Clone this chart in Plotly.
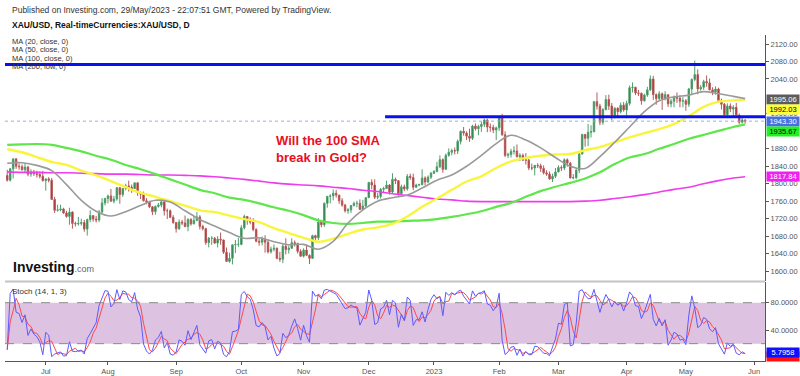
import pandas as pd
import plotly.graph_objects as go

# ---------------- data ----------------
start_date = "2022-06-14"
end_date = "2023-05-29"
first_open = 1819

high = [
    1832, 1836, 1857, 1858, 1846, 1844, 1847, 1841, 1833, 1832, 1830, 1828, 1829,
    1812, 1815, 1813, 1770, 1752, 1752, 1745, 1738, 1745, 1737, 1713, 1724, 1720, 1717, 1720, 1739, 1727, 1726, 1740, 1767, 1768,
    1775, 1788, 1772, 1792, 1792, 1790, 1800, 1807, 1798, 1802, 1803, 1782, 1782, 1767, 1761, 1748, 1750, 1756, 1765, 1762, 1743, 1741, 1728,
    1712, 1718, 1717, 1727, 1721, 1721, 1726, 1735, 1728, 1706, 1699, 1678, 1680, 1678, 1680, 1688, 1672, 1654, 1642, 1660, 1671, 1676,
    1705, 1729, 1726, 1723, 1721, 1698, 1675, 1679, 1682, 1671, 1656, 1661, 1654, 1644, 1662, 1675, 1658, 1675, 1670, 1665, 1650,
    1652, 1660, 1638, 1683, 1683, 1721, 1717, 1757, 1772, 1776, 1787, 1786, 1774, 1767, 1754, 1744, 1751, 1759, 1761, 1764, 1763, 1769,
    1804, 1810, 1810, 1779, 1790, 1793, 1807, 1799, 1824, 1814, 1808, 1798, 1798, 1822, 1823, 1823, 1800, 1800, 1833, 1817, 1819, 1827,
    1831, 1850, 1865, 1858, 1869, 1881, 1880, 1883, 1901, 1922, 1930, 1920, 1926, 1935, 1938, 1935, 1942, 1949, 1949, 1938, 1935, 1931,
    1955, 1960, 1920, 1871, 1880, 1886, 1890, 1870, 1869, 1870, 1857, 1846, 1843, 1847, 1846, 1842, 1831, 1828, 1823, 1836,
    1842, 1842, 1858, 1858, 1850, 1822, 1834, 1870, 1914, 1913, 1937, 1934, 1989, 2009, 1983, 1973, 2003, 2004, 1985, 1975, 1975, 1986, 1987,
    1990, 2025, 2032, 2022, 2015, 2009, 2006, 2022, 2048, 2047, 2007, 2012, 2009, 2012, 2004, 1994, 2002, 2009, 2003, 1999,
    1994, 2019, 2041, 2082, 2062, 2026, 2038, 2048, 2041, 2021, 2023, 2020, 1995, 1985, 1984, 1984, 1980, 1985, 1961, 1953, 1947,
]
low = [
    1805, 1805, 1812, 1834, 1832, 1830, 1826, 1817, 1816, 1818, 1814, 1812, 1805,
    1784, 1803, 1763, 1733, 1736, 1737, 1731, 1722, 1706, 1697, 1702, 1704, 1704, 1690, 1681, 1712, 1713, 1711, 1712, 1731, 1750,
    1755, 1759, 1755, 1761, 1754, 1770, 1785, 1782, 1779, 1788, 1772, 1765, 1759, 1753, 1744, 1728, 1729, 1745, 1746, 1727, 1719, 1721, 1708,
    1688, 1694, 1705, 1700, 1691, 1704, 1707, 1714, 1695, 1693, 1660, 1654, 1660, 1662, 1654, 1660, 1639, 1621, 1619, 1615, 1641, 1655,
    1659, 1695, 1706, 1707, 1691, 1666, 1658, 1659, 1642, 1640, 1640, 1645, 1627, 1621, 1618, 1638, 1640, 1651, 1656, 1640, 1632,
    1631, 1634, 1616, 1628, 1666, 1671, 1700, 1701, 1745, 1755, 1762, 1768, 1754, 1747, 1734, 1731, 1733, 1748, 1746, 1740, 1740, 1746,
    1768, 1787, 1765, 1764, 1766, 1779, 1788, 1775, 1778, 1799, 1773, 1774, 1783, 1784, 1809, 1785, 1790, 1794, 1796, 1796, 1801, 1811,
    1822, 1826, 1836, 1825, 1832, 1862, 1865, 1867, 1868, 1890, 1910, 1900, 1896, 1900, 1922, 1911, 1919, 1930, 1918, 1919, 1916, 1900,
    1921, 1910, 1861, 1859, 1860, 1867, 1860, 1852, 1852, 1844, 1831, 1831, 1819, 1836, 1827, 1821, 1818, 1809, 1804, 1813,
    1826, 1829, 1831, 1839, 1813, 1810, 1810, 1824, 1867, 1885, 1886, 1906, 1918, 1970, 1934, 1935, 1968, 1969, 1945, 1949, 1950, 1961, 1965,
    1950, 1979, 2009, 2003, 2001, 1981, 1988, 1999, 2012, 1992, 1981, 1991, 1969, 1991, 1976, 1975, 1975, 1985, 1975, 1975,
    1967, 1976, 2003, 2035, 2005, 2013, 2015, 2022, 2014, 2003, 2004, 1985, 1970, 1952, 1950, 1964, 1955, 1957, 1937, 1938, 1938,
]
close = [
    1808, 1834, 1857, 1840, 1839, 1832, 1838, 1822, 1827, 1823, 1821, 1817, 1807,
    1811, 1808, 1764, 1739, 1740, 1742, 1733, 1725, 1735, 1709, 1708, 1709, 1711, 1696, 1718, 1727, 1719, 1717, 1735, 1756, 1766,
    1772, 1760, 1765, 1791, 1775, 1789, 1795, 1792, 1789, 1802, 1779, 1776, 1761, 1758, 1747, 1736, 1748, 1751, 1758, 1738, 1738, 1723, 1711,
    1697, 1712, 1710, 1702, 1718, 1708, 1716, 1724, 1702, 1697, 1665, 1675, 1675, 1664, 1673, 1671, 1643, 1622, 1629, 1660, 1661, 1661,
    1699, 1725, 1716, 1712, 1695, 1668, 1666, 1673, 1666, 1644, 1650, 1652, 1629, 1627, 1657, 1649, 1652, 1665, 1663, 1645, 1634,
    1648, 1636, 1629, 1681, 1676, 1712, 1706, 1755, 1771, 1772, 1778, 1774, 1761, 1751, 1738, 1740, 1750, 1755, 1755, 1741, 1749, 1768,
    1803, 1797, 1769, 1771, 1787, 1789, 1797, 1781, 1810, 1807, 1777, 1793, 1788, 1817, 1814, 1792, 1797, 1798, 1813, 1804, 1815, 1824,
    1828, 1839, 1855, 1833, 1865, 1872, 1876, 1875, 1897, 1920, 1916, 1909, 1904, 1932, 1926, 1931, 1936, 1946, 1930, 1929, 1923, 1928,
    1951, 1912, 1865, 1867, 1874, 1875, 1862, 1865, 1854, 1854, 1836, 1836, 1842, 1841, 1835, 1825, 1822, 1811, 1817, 1827,
    1837, 1836, 1855, 1847, 1813, 1814, 1831, 1868, 1913, 1904, 1918, 1919, 1988, 1978, 1941, 1970, 1993, 1978, 1957, 1973, 1965, 1980, 1969,
    1984, 2020, 2021, 2008, 2007, 1990, 2003, 2015, 2040, 2004, 1995, 2006, 1995, 2004, 1983, 1989, 1998, 1996, 1989, 1990,
    1982, 2017, 2039, 2050, 2017, 2021, 2034, 2031, 2015, 2010, 2017, 1990, 1982, 1958, 1978, 1971, 1975, 1957, 1941, 1946, 1943,
]

# moving averages read every 5 bars (last point = last bar)
ma20 = [1847, 1848, 1842, 1830, 1798, 1762, 1737, 1726, 1736, 1750, 1762, 1758, 1738, 1718, 1703, 1688, 1675, 1676,
        1667, 1660, 1661, 1650, 1668, 1710, 1740, 1760, 1768, 1774, 1790, 1808, 1820, 1840, 1865, 1892, 1911, 1900,
        1882, 1860, 1840, 1835, 1862, 1895, 1930, 1965, 1990, 1999, 2003, 2011, 2006, 2000, 1995]
ma50 = [1879, 1872, 1861, 1850, 1843, 1830, 1819, 1806, 1792, 1779, 1770, 1760, 1750, 1739, 1735, 1727, 1719, 1712,
        1698, 1687, 1676, 1667, 1674, 1685, 1695, 1700, 1708, 1725, 1747, 1766, 1786, 1805, 1817, 1836, 1851, 1859,
        1864, 1867, 1868, 1877, 1884, 1895, 1906, 1916, 1925, 1937, 1955, 1976, 1988, 1991, 1993]
ma100 = [1889, 1890, 1891, 1889, 1882, 1874, 1864, 1855, 1843, 1833, 1822, 1810, 1798, 1786, 1778, 1768, 1763, 1755,
         1746, 1738, 1728, 1716, 1710, 1708, 1710, 1713, 1713, 1715, 1716, 1719, 1724, 1730, 1737, 1747, 1756, 1770,
         1783, 1793, 1802, 1812, 1826, 1845, 1860, 1868, 1880, 1891, 1903, 1912, 1921, 1930, 1936]
ma200 = [1827, 1826, 1826, 1825, 1825, 1824, 1823, 1822, 1822, 1821, 1820, 1820, 1819, 1818, 1816, 1813, 1810, 1806,
         1802, 1799, 1797, 1795, 1792, 1789, 1785, 1782, 1777, 1773, 1769, 1765, 1763, 1760, 1759, 1759, 1759, 1759,
         1759, 1759, 1759, 1760, 1762, 1766, 1770, 1775, 1781, 1787, 1792, 1800, 1807, 1813, 1816]

month_labels = ["Jul", "Aug", "Sep", "Oct", "Nov", "Dec", "2023", "Feb", "Mar", "Apr", "May", "Jun"]
price_ticks = [1600, 1640, 1680, 1720, 1760, 1800, 1840, 1880, 1960, 2040, 2080, 2120]
stoch_ticks = [40, 80]
resistance = 2073
support = 1953.5
support_start = 127.5
last_price = 1943.3

# ---------------- derived ----------------
dates = pd.bdate_range(start_date, end_date)
n = min(len(dates), len(close), len(high), len(low))
close, high, low = close[:n], high[:n], low[:n]
idx = list(range(n))
opens = [first_open] + close[:-1]

ma_idx = list(range(0, n, 5)) + [n - 1]

# Stochastic (14, 1, 3)
k_line = []
for i in range(n):
    lo = min(low[max(0, i - 13):i + 1])
    hi = max(high[max(0, i - 13):i + 1])
    k_line.append(100 * (close[i] - lo) / (hi - lo) if hi > lo else 50)
d_line = []
for i in range(n):
    seg = k_line[max(0, i - 2):i + 1]
    d_line.append(sum(seg) / len(seg))

axis_dates = pd.bdate_range(start_date, "2023-06-09")
tick_pos = [i for i in range(1, len(axis_dates)) if axis_dates[i].month != axis_dates[i - 1].month]
tick_text = month_labels[:len(tick_pos)]

# ---------------- layout geometry ----------------
W, H = 800, 376
ML, MR, MT, MB = 5, 35, 35, 15
def py(p):
    return (H - MB - p) / (H - MT - MB)
def px(p):
    return (p - ML) / (W - ML - MR)

x_range = [-0.75, 255.7]
FONT = "Liberation Sans, Arial, sans-serif"

fig = go.Figure()

for vals, col, wd in [(ma200, "#ee3cee", 1.6), (ma100, "#5ee64a", 2.2), (ma50, "#f8f53c", 2.4), (ma20, "#9a9a9a", 1.6)]:
    fig.add_trace(go.Scatter(x=ma_idx, y=vals, mode="lines", line=dict(color=col, width=wd, shape="spline"),
                             xaxis="x", yaxis="y", showlegend=False, hoverinfo="skip"))

fig.add_trace(go.Candlestick(
    x=idx, open=opens, high=high, low=low, close=close,
    increasing=dict(line=dict(color="#4f9f6c", width=1), fillcolor="#1f7f40"),
    decreasing=dict(line=dict(color="#b85a5a", width=1), fillcolor="#a32525"),
    xaxis="x", yaxis="y", showlegend=False, hoverinfo="skip"))

fig.add_trace(go.Scatter(x=idx, y=d_line, mode="lines", line=dict(color="#ff4848", width=1),
                         xaxis="x2", yaxis="y2", showlegend=False, hoverinfo="skip"))
fig.add_trace(go.Scatter(x=idx, y=k_line, mode="lines", line=dict(color="#5b5bff", width=1),
                         xaxis="x2", yaxis="y2", showlegend=False, hoverinfo="skip"))

shapes = [
    dict(type="line", xref="x", yref="y", x0=x_range[0], x1=x_range[1], y0=last_price, y1=last_price,
         line=dict(color="#8fb0e8", width=1, dash="dot")),
    dict(type="line", xref="x", yref="y", x0=x_range[0], x1=x_range[1], y0=resistance, y1=resistance,
         line=dict(color="#0a10f0", width=3)),
    dict(type="line", xref="x", yref="y", x0=support_start, x1=x_range[1], y0=support, y1=support,
         line=dict(color="#0a10f0", width=3)),
    dict(type="rect", xref="x2", yref="y2", x0=x_range[0], x1=x_range[1], y0=20, y1=80,
         fillcolor="#dec2e2", line=dict(width=0), layer="below"),
    dict(type="line", xref="x2", yref="y2", x0=x_range[0], x1=x_range[1], y0=80, y1=80,
         line=dict(color="#8a8a8a", width=1, dash="dash")),
    dict(type="line", xref="x2", yref="y2", x0=x_range[0], x1=x_range[1], y0=20, y1=20,
         line=dict(color="#8a8a8a", width=1, dash="dash")),
    dict(type="line", xref="paper", yref="paper", x0=0, x1=1, y0=py(281.5), y1=py(281.5),
         line=dict(color="#c4c4c4", width=2)),
]

ann = []
def text(x, y, t, size, color="#333", bold=False, anchor="left"):
    ann.append(dict(xref="paper", yref="paper", x=px(x), y=py(y), text=("<b>%s</b>" % t) if bold else t,
                    showarrow=False, xanchor=anchor, yanchor="middle",
                    font=dict(family=FONT, size=size, color=color)))

text(10, 10, "Published on Investing.com, 29/May/2023 - 22:07:51 GMT, Powered by TradingView.", 8.5, "#333")
text(10, 25, "XAU/USD, Real-timeCurrencies:XAU/USD, D", 8.5, "#111", bold=True)
for i, t in enumerate(["MA (20, close, 0)", "MA (50, close, 0)", "MA (100, close, 0)", "MA (200, low, 0)"]):
    text(10, 42 + 8 * i, t, 7.5, "#333")
text(10, 291, "Stoch (14, 1, 3)", 8, "#333")
ann.append(dict(xref="paper", yref="paper", x=px(274), y=py(149), xanchor="left", yanchor="middle",
                text="<b>Will the 100 SMA<br>break in Gold?</b>", showarrow=False, align="left",
                font=dict(family=FONT, size=13, color="#e8101e")))
ann.append(dict(xref="paper", yref="paper", x=px(11), y=py(267), xanchor="left", yanchor="middle",
                text="<b>Investing</b><span style='font-size:9px;color:#666666'>.com</span>", showarrow=False,
                font=dict(family=FONT, size=14, color="#111")))

def tag(ypix, t, bg, fg):
    ann.append(dict(xref="paper", yref="paper", x=px(766), y=py(ypix), xanchor="left", yanchor="middle",
                    text=t, showarrow=False, bgcolor=bg, borderpad=0, width=32, height=9, align="center",
                    font=dict(family=FONT, size=7.5, color=fg)))

tag(99.5, "1995.06", "#5c5c5c", "#ffffff")
tag(109, "1992.03", "#ffff33", "#000000")
tag(121.5, "1943.30", "#4470e0", "#ffffff")
tag(131, "1935.67", "#22f022", "#000000")
tag(176.5, "1817.84", "#f020f0", "#ffffff")
tag(356, "", "#ff1010", "#ff1010")
tag(352.5, "5.7958", "#1010ff", "#ffffff")

axis_common = dict(showgrid=False, zeroline=False, showline=True, linecolor="#555", linewidth=1, automargin=False,
                   ticks="outside", ticklen=3, tickcolor="#555", tickfont=dict(family=FONT, size=7.5, color="#555"))

fig.update_layout(
    width=W, height=H, margin=dict(l=ML, r=MR, t=MT, b=MB, autoexpand=False),
    paper_bgcolor="white", plot_bgcolor="white", showlegend=False,
    shapes=shapes, annotations=ann,
    xaxis=dict(domain=[0, 1], anchor="y", range=x_range, showticklabels=False, showgrid=False, automargin=False,
               zeroline=False, showline=False, ticks="", rangeslider=dict(visible=False)),
    xaxis2=dict(domain=[0, 1], anchor="y2", range=x_range, matches="x", tickmode="array",
                tickvals=tick_pos, ticktext=tick_text, **axis_common),
    yaxis=dict(domain=[py(281), 1], anchor="x", side="right", range=[1577.1, 2140.7],
               tickmode="array", tickvals=price_ticks, tickformat=".2f", **axis_common),
    yaxis2=dict(domain=[0, py(282)], anchor="x2", side="right", range=[-5.4, 110.3],
                tickmode="array", tickvals=stoch_ticks, tickformat=".4f", **axis_common),
)

fig.write_html("out.html", config={"displayModeBar": False},
               post_script="document.body.style.margin='0px';document.body.style.overflow='hidden';")
